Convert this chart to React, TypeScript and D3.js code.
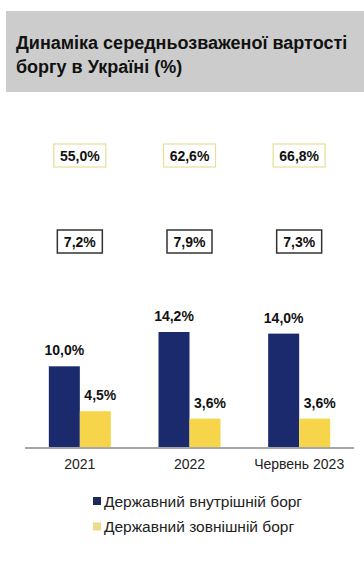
import React from "react";
import * as d3 from "d3";

const categories = ["2021", "2022", "Червень 2023"];
const domesticDebt = [10.0, 14.2, 14.0];
const externalDebt = [4.5, 3.6, 3.6];
const topBoxValues = [55.0, 62.6, 66.8];
const midBoxValues = [7.2, 7.9, 7.3];
const seriesNames = ["Державний внутрішній борг", "Державний зовнішній борг"];

const W = 364;
const H = 569;
const navy = "#1a2a6c";
const yellow = "#f7d54a";
const font = "'Liberation Sans', Arial, sans-serif";

// chart area
const baseY = 448;
const x = d3.scaleBand<string>().domain(categories).range([25, 354]);
const y = d3.scaleLinear().domain([0, 14.2]).range([baseY, 332]);
const barW = 31;

const fmt = (v: number) => d3.format(".1f")(v).replace(".", ",") + "%";

const App: React.FC = () => {
  const cx = (c: string) => (x(c) as number) + x.bandwidth() / 2;

  return (
    <svg
      width={W}
      height={H}
      style={{ position: "absolute", left: 0, top: 0, background: "#fff" }}
      fontFamily={font}
    >
      {/* title */}
      <rect x={6} y={11} width={W - 6} height={81} fill="#cccccc" />
      <text x={16} y={48.5} fontSize={18} fontWeight="bold" fill="#111">
        Динаміка середньозваженої вартості
      </text>
      <text x={16} y={72.5} fontSize={18} fontWeight="bold" fill="#111">
        боргу в Україні (%)
      </text>

      {/* top boxes */}
      {categories.map((c, i) => (
        <g key={"t" + c}>
          <rect
            x={cx(c) - 26}
            y={144}
            width={52}
            height={23}
            fill="#fff"
            stroke="#e6de9a"
            strokeWidth={1.2}
          />
          <text x={cx(c)} y={161} textAnchor="middle" fontSize={14} fontWeight="bold" fill="#111">
            {fmt(topBoxValues[i])}
          </text>
        </g>
      ))}

      {/* middle boxes */}
      {categories.map((c, i) => (
        <g key={"m" + c}>
          <rect
            x={cx(c) - 22.5}
            y={230}
            width={45}
            height={23}
            fill="#fff"
            stroke="#333"
            strokeWidth={1.5}
          />
          <text x={cx(c)} y={247} textAnchor="middle" fontSize={14} fontWeight="bold" fill="#111">
            {fmt(midBoxValues[i])}
          </text>
        </g>
      ))}

      {/* bars */}
      {categories.map((c, i) => (
        <g key={"b" + c}>
          <rect
            x={cx(c) - barW}
            y={y(domesticDebt[i])}
            width={barW}
            height={baseY - y(domesticDebt[i])}
            fill={navy}
          />
          <rect
            x={cx(c)}
            y={y(externalDebt[i])}
            width={barW}
            height={baseY - y(externalDebt[i])}
            fill={yellow}
          />
          <text
            x={cx(c) - barW / 2}
            y={y(domesticDebt[i]) - 11}
            textAnchor="middle"
            fontSize={14}
            fontWeight="bold"
            fill="#111"
          >
            {fmt(domesticDebt[i])}
          </text>
          <text
            x={cx(c) + barW / 2 + 5}
            y={y(externalDebt[i]) - 11}
            textAnchor="middle"
            fontSize={14}
            fontWeight="bold"
            fill="#111"
          >
            {fmt(externalDebt[i])}
          </text>
          <text x={cx(c)} y={469} textAnchor="middle" fontSize={14} fill="#222">
            {c}
          </text>
        </g>
      ))}

      {/* axis */}
      <line x1={25} x2={354} y1={baseY} y2={baseY} stroke="#a6a6a6" strokeWidth={2} />

      {/* legend */}
      {seriesNames.map((s, i) => (
        <g key={s} transform={`translate(93,${497 + i * 25.5})`}>
          <rect width={8} height={8} fill={i === 0 ? "#1c2a55" : "#efd98a"} />
          <text x={11} y={9.5} fontSize={15.5} fill="#222">
            {s}
          </text>
        </g>
      ))}
    </svg>
  );
};

export default App;
